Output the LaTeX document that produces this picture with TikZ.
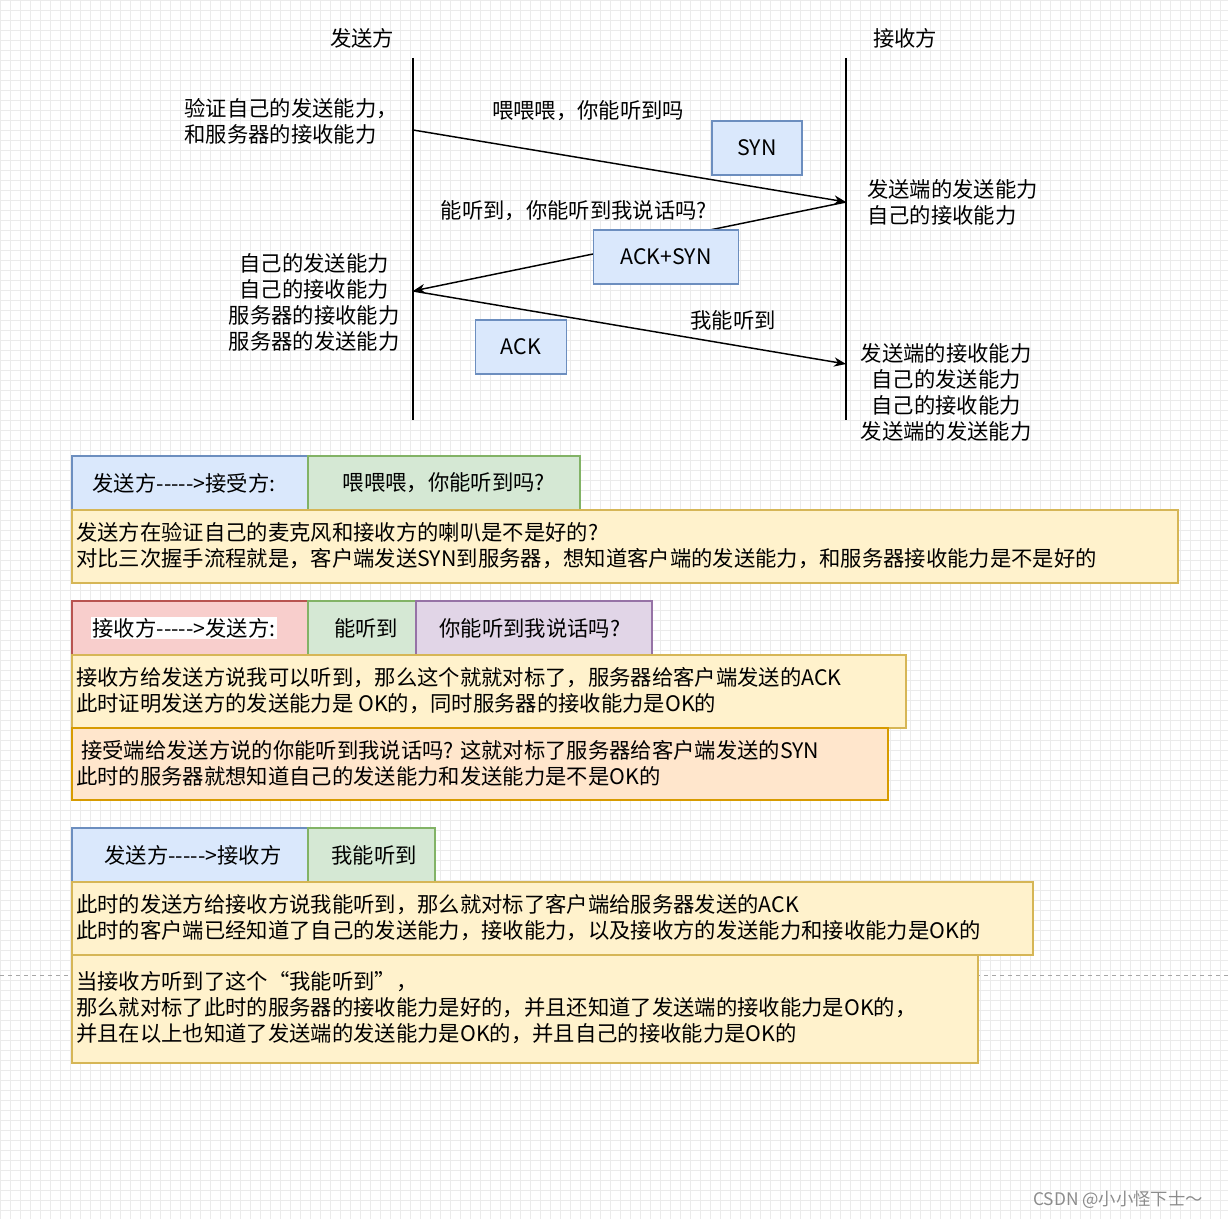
\documentclass[tikz,border=0pt]{standalone}
\usepackage{fontspec}
\setmainfont[Ligatures=NoCommon]{Noto Sans CJK SC}
\usetikzlibrary{arrows.meta}
\newcommand{\dsh}{-{}-{}-{}-{}-{}>}
\begin{document}
\begin{tikzpicture}[x=0.75pt,y=-0.75pt,
  every node/.style={font=\fontsize{16}{19.5}\selectfont, inner sep=0pt},
  lbl/.style={align=center},
  blk/.style={line width=0.9pt},
  blue/.style={blk,fill={rgb,255:red,218;green,232;blue,252},draw={rgb,255:red,108;green,142;blue,191}},
  green/.style={blk,fill={rgb,255:red,213;green,232;blue,212},draw={rgb,255:red,130;green,179;blue,102}},
  yel/.style={blk,fill={rgb,255:red,255;green,242;blue,204},draw={rgb,255:red,214;green,182;blue,86}},
  redb/.style={blk,fill={rgb,255:red,248;green,206;blue,204},draw={rgb,255:red,184;green,84;blue,80}},
  purp/.style={blk,fill={rgb,255:red,225;green,213;blue,231},draw={rgb,255:red,150;green,115;blue,166}},
  orng/.style={blk,fill={rgb,255:red,255;green,230;blue,204},draw={rgb,255:red,215;green,155;blue,0}},
  arr/.style={line width=1.1pt,-{Stealth[length=9pt,width=7pt]}},
  life/.style={line width=1.1pt}]
\useasboundingbox (0,0) rectangle (1228,1219);
\fill[white] (0,0) rectangle (1228,1219);
\foreach \i in {0,10,...,1220} {\draw[black!8,line width=0.4pt] (\i,0) -- (\i,1219);}
\foreach \i in {0,10,...,1210} {\draw[black!8,line width=0.4pt] (0,\i) -- (1228,\i);}
\draw[black!35,dashed] (0,975) -- (1228,975);
\node (hs) at (362,38) {发送方};
\node (hr) at (905,38) {接收方};
\coordinate (s0) at (413,58); \coordinate (s1) at (413,420);
\coordinate (r0) at (846,58); \coordinate (r1) at (846,420);
\draw[life] (s0) -- (s1); \draw[life] (r0) -- (r1);
\coordinate (a1) at (413,130); \coordinate (b1) at (846,202);
\coordinate (a2) at (413,291); \coordinate (b2) at (846,364);
\draw[arr] (a1) -- (b1);
\draw[arr] (b1) -- (a2);
\draw[arr] (a2) -- (b2);
\node[lbl,align=left,anchor=east] (t1) at (398,121) {验证自己的发送能力，\\和服务器的接收能力};
\node (t2) at (588,111) {喂喂喂，你能听到吗};
\node[blue,minimum width=90*0.75pt,minimum height=54*0.75pt] (syn) at (757,148) {SYN};
\node[align=left,anchor=west] (t3) at (867,202) {发送端的发送能力\\自己的接收能力};
\node (t4) at (574,211) {能听到，你能听到我说话吗?};
\node[blue,minimum width=145*0.75pt,minimum height=54*0.75pt] (as) at (666,257) {ACK+SYN};
\node[lbl] (t5) at (314,302) {自己的发送能力\\自己的接收能力\\服务器的接收能力\\服务器的发送能力};
\node[blue,minimum width=91*0.75pt,minimum height=54*0.75pt] (ack) at (521,347) {ACK};
\node (t6) at (733,320) {我能听到};
\node[lbl] (t7) at (946,392) {发送端的接收能力\\自己的发送能力\\自己的接收能力\\发送端的发送能力};
\draw[blue] (72,456) rectangle (308,510); \node (c1) at (184,483) {发送方\dsh 接受方:};
\draw[green] (308,456) rectangle (580,510); \node (c2) at (444,483) {喂喂喂，你能听到吗?};
\draw[yel] (72,510) rectangle (1178,583);
\node[align=left,anchor=west] (c3) at (76,546) {发送方在验证自己的麦克风和接收方的喇叭是不是好的?\\对比三次握手流程就是，客户端发送SYN到服务器，想知道客户端的发送能力，和服务器接收能力是不是好的};
\draw[redb] (72,601) rectangle (308,655);
\node[fill=white,inner sep=1pt] (c4) at (184,628) {接收方\dsh 发送方:};
\draw[green] (308,601) rectangle (416,655); \node (c5) at (366,628) {能听到};
\draw[purp] (416,601) rectangle (652,655); \node (c6) at (530,628) {你能听到我说话吗?};
\draw[yel] (72,655) rectangle (906,728);
\node[align=left,anchor=west] (c7) at (76,691) {接收方给发送方说我可以听到，那么这个就就对标了，服务器给客户端发送的ACK\\此时证明发送方的发送能力是 OK的，同时服务器的接收能力是OK的};
\draw[orng] (72,728) rectangle (888,800);
\node[align=left,anchor=west] (c8) at (76,763) {\ 接受端给发送方说的你能听到我说话吗? 这就对标了服务器给客户端发送的SYN\\此时的服务器就想知道自己的发送能力和发送能力是不是OK的};
\draw[blue] (72,828) rectangle (308,882); \node (c9) at (193,855) {发送方\dsh 接收方};
\draw[green] (308,828) rectangle (435,882); \node (c10) at (374,855) {我能听到};
\draw[yel] (72,882) rectangle (1033,955);
\node[align=left,anchor=west] (c11) at (76,918) {此时的发送方给接收方说我能听到，那么就对标了客户端给服务器发送的ACK\\此时的客户端已经知道了自己的发送能力，接收能力，以及接收方的发送能力和接收能力是OK的};
\draw[yel] (72,955) rectangle (978,1063);
\node[align=left,anchor=west] (c12) at (76,1008) {当接收方听到了这个“我能听到”，\\那么就对标了此时的服务器的接收能力是好的，并且还知道了发送端的接收能力是OK的，\\并且在以上也知道了发送端的发送能力是OK的，并且自己的接收能力是OK的};
\node[text=black!45,font=\fontsize{13}{15}\selectfont] (wm) at (1118,1200) {CSDN @小小怪下士～};
\end{tikzpicture}
\end{document}
